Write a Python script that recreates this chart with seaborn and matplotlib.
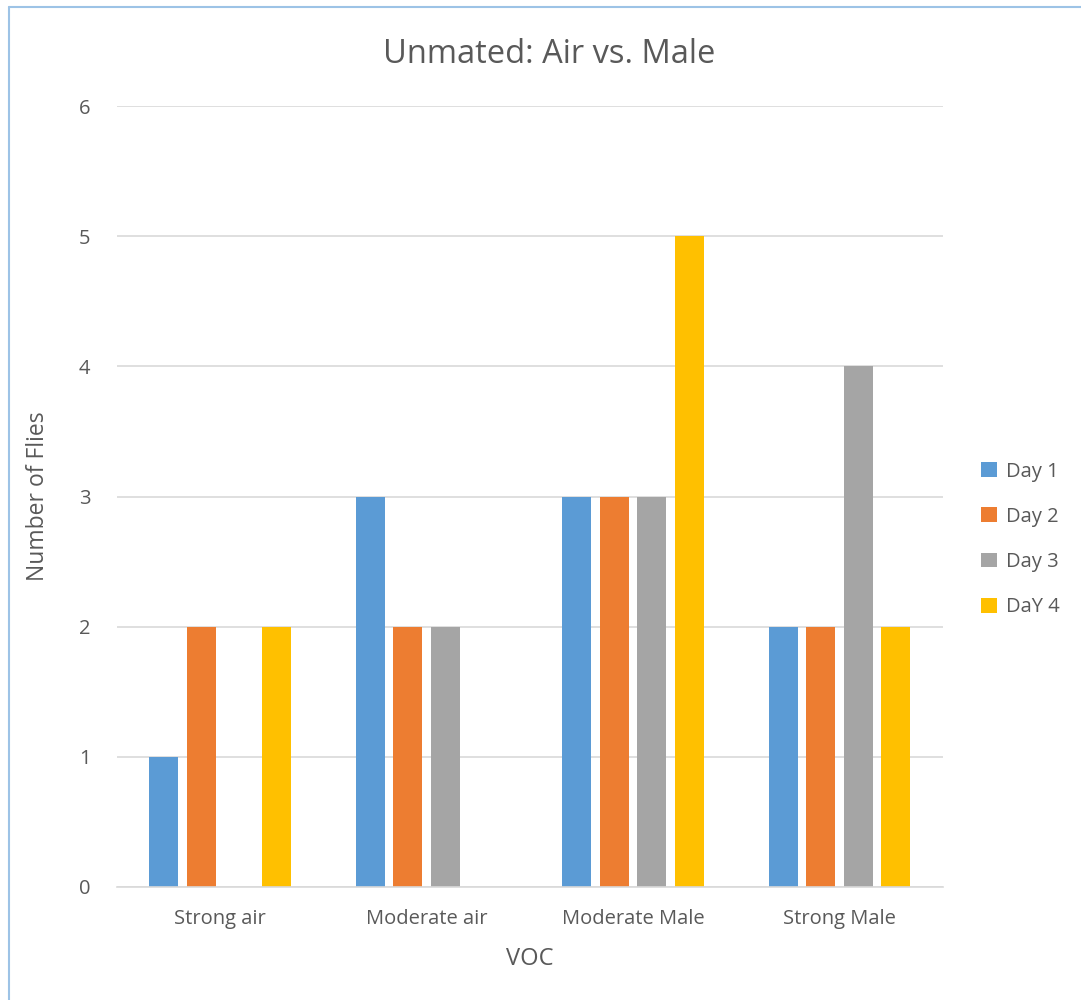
import pandas as pd
import seaborn as sns
import matplotlib.pyplot as plt
from matplotlib.lines import Line2D

# Datos
categorias = ["Strong air", "Moderate air", "Moderate Male", "Strong Male"]
dias = ["Day 1", "Day 2", "Day 3", "DaY 4"]
day1 = [1, 3, 3, 2]
day2 = [2, 2, 3, 2]
day3 = [0, 2, 3, 4]
day4 = [2, 0, 5, 2]
colores = ["#5B9BD5", "#ED7D31", "#A5A5A5", "#FFC000"]

df = pd.DataFrame({"VOC": categorias * 4,
                   "Dia": [d for d in dias for _ in categorias],
                   "Flies": day1 + day2 + day3 + day4})

sns.set_style("white")
plt.rcParams['font.family'] = ['Open Sans', 'DejaVu Sans']
gris = "#595959"

fig = plt.figure(figsize=(10.81, 10), dpi=100)
ax = fig.add_axes([0.108, 0.113, 0.764, 0.781])

sns.barplot(data=df, x="VOC", y="Flies", hue="Dia", palette=colores,
            width=0.726, gap=0.23, ax=ax, saturation=1, legend=True,
            linewidth=0)

ax.set_ylim(0, 6)
ax.set_yticks(range(0, 7))
ax.yaxis.grid(True, color="#D9D9D9", linewidth=1.2)
ax.set_axisbelow(True)
for s in ["top", "right", "left"]:
    ax.spines[s].set_visible(False)
ax.spines["bottom"].set_color("#D9D9D9")
ax.spines["bottom"].set_linewidth(1.2)
ax.tick_params(axis="both", length=0, colors=gris, labelsize=14.5, pad=16)
ax.tick_params(axis="y", pad=19)

# titulo centrado en el area del grafico (algo a la derecha del eje)
ax.set_title("Unmated: Air vs. Male", fontsize=23.5, color=gris, pad=31, x=0.524)
ax.set_xlabel("VOC", fontsize=17, color=gris, labelpad=13)
ax.set_ylabel("Number of Flies", fontsize=16.5, color=gris, labelpad=21)

leg = ax.legend(loc="center left", bbox_to_anchor=(1.025, 0.445), frameon=False,
                fontsize=14.5, handlelength=0.75, handleheight=0.75,
                labelspacing=1.25, handletextpad=0.45)
for t in leg.get_texts():
    t.set_color(gris)

# borde del grafico
fig.add_artist(Line2D([0.008, 0.008], [0, 0.993], color="#9DC3E6", linewidth=1.5))
fig.add_artist(Line2D([0.008, 1], [0.993, 0.993], color="#9DC3E6", linewidth=1.5))

plt.savefig("out.png", dpi=100)
